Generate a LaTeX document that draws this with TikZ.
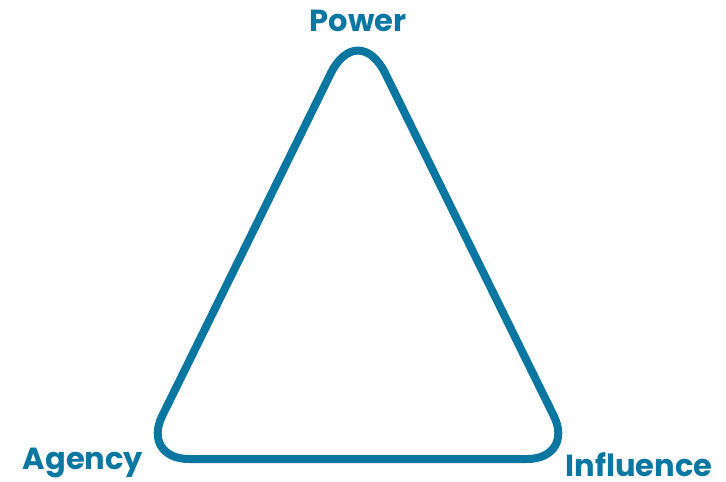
\documentclass[tikz,border=0pt]{standalone}
\usepackage{fontspec}
\setmainfont{Poppins}
\definecolor{tealblue}{HTML}{0B77A1}
\begin{document}
\begin{tikzpicture}[x=1pt, y=-1pt,
    vertexlabel/.style={font=\fontsize{30.5}{32}\selectfont\bfseries, text=tealblue,
      inner sep=0pt},
    edge/.style={draw=tealblue, line width=8pt, line join=round}]
  \useasboundingbox (0,0) rectangle (726,482);
  \coordinate (top) at (358,18);
  \coordinate (left) at (141,459);
  \coordinate (right) at (575,459);
  \coordinate (mid) at (358,459);
  \draw[edge] (mid) [rounded corners=48pt] -- (right) [rounded corners=62pt] -- (top)
    [rounded corners=48pt] -- (left) -- cycle;
  \node[vertexlabel, anchor=base] (power) at (358,31) {Power};
  \node[vertexlabel, anchor=base] (agency) at (83,469) {Agency};
  \node[vertexlabel, anchor=base] (influence) at (639,476) {Influence};
\end{tikzpicture}
\end{document}
